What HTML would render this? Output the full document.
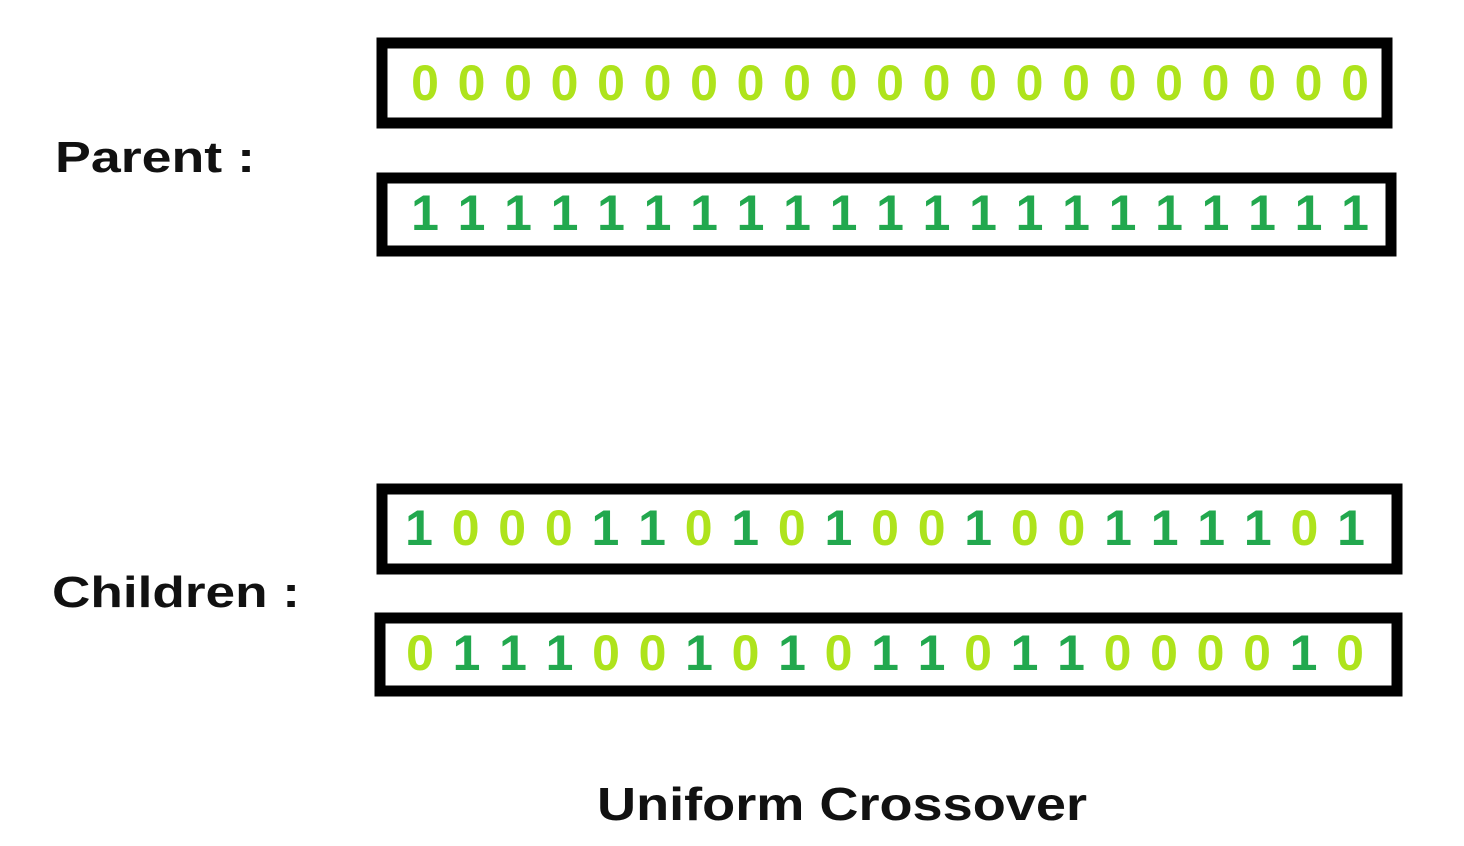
<!DOCTYPE html>
<html><head><meta charset="utf-8"><style>
html,body{margin:0;padding:0;background:#fff;width:1464px;height:846px;overflow:hidden}
svg{display:block}
text{font-family:"Liberation Sans","DejaVu Sans",sans-serif;font-weight:bold}
</style></head><body>
<svg id="d" width="1464" height="846" viewBox="0 0 1464 846">
<text x="55" y="172" font-size="44" fill="#111" textLength="200" lengthAdjust="spacingAndGlyphs">Parent :</text>
<text x="52" y="607" font-size="44" fill="#111" textLength="248" lengthAdjust="spacingAndGlyphs">Children :</text>
<text x="597" y="820" font-size="46" fill="#111" textLength="490" lengthAdjust="spacingAndGlyphs">Uniform Crossover</text>
</svg>
<script>
const parent1 = "000000000000000000000";
const parent2 = "111111111111111111111";
const child1  = "100011010100100111101";
const child2  = "011100101011011000010";
const rowsBits = [parent1, parent2, child1, child2];
const rowNames = ['parent-1','parent-2','child-1','child-2'];
const boxes = [
 {x:382,y:43,w:1005,h:80,first:425,last:1355,cy:100},
 {x:382,y:178,w:1009,h:73,first:425,last:1355,cy:230},
 {x:382,y:489,w:1015,h:80,first:419,last:1351,cy:545},
 {x:380,y:618,w:1017,h:73,first:420,last:1350,cy:670}
];
const svg=document.getElementById('d');
const NS='http://www.w3.org/2000/svg';
rowsBits.forEach((bits,r)=>{
  const b=boxes[r];
  const g=document.createElementNS(NS,'g');
  
  
  const rect=document.createElementNS(NS,'rect');
  rect.setAttribute('x',b.x);rect.setAttribute('y',b.y);
  rect.setAttribute('width',b.w);rect.setAttribute('height',b.h);
  rect.setAttribute('fill','#fff');rect.setAttribute('stroke','#000');rect.setAttribute('stroke-width','11');
  
  
  g.appendChild(rect);
  const n=bits.length, step=(b.last-b.first)/(n-1);
  for(let i=0;i<n;i++){
    const t=document.createElementNS(NS,'text');
    t.setAttribute('x',b.first+i*step);t.setAttribute('y',b.cy);
    t.setAttribute('font-size','50');t.setAttribute('text-anchor','middle');
    t.setAttribute('fill',bits[i]==='1'?'#22a84e':'#aee31c');
    t.textContent=bits[i];
    
    
    g.appendChild(t);
  }
  svg.appendChild(g);
});
</script>
</body></html>
